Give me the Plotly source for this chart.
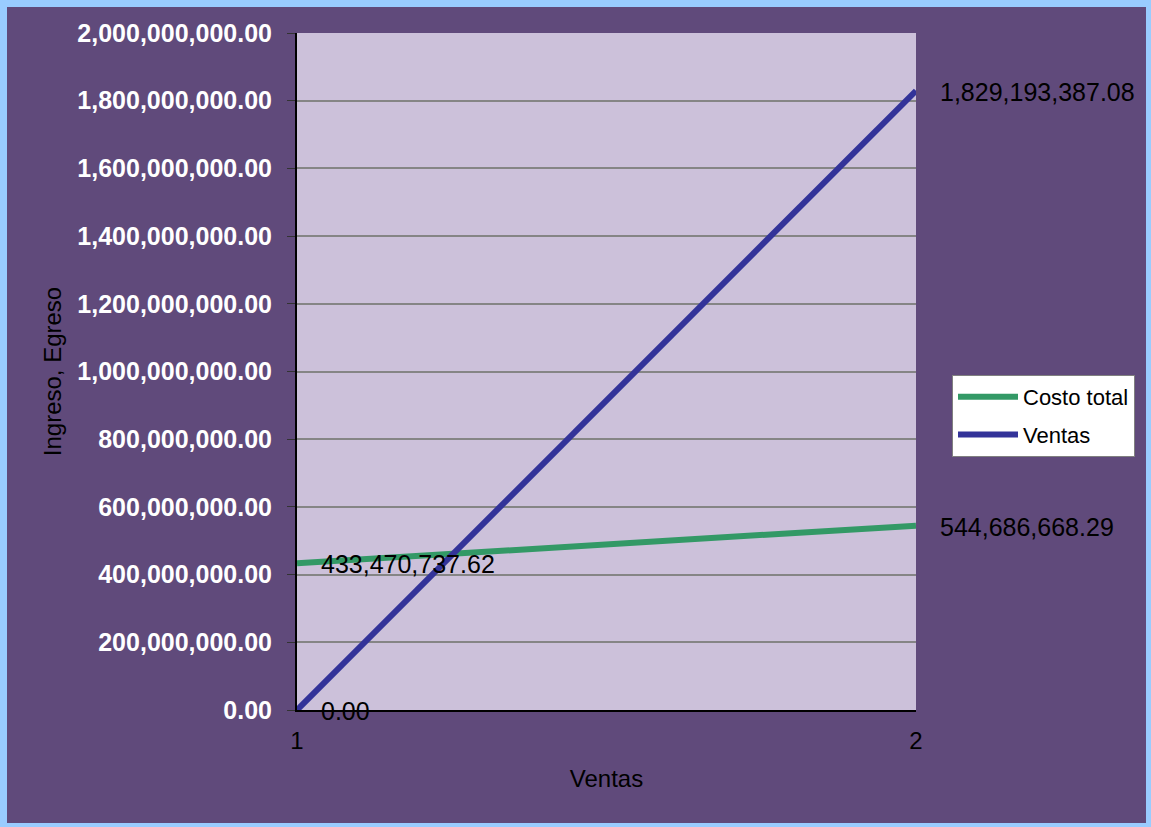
import plotly.graph_objects as go

# ---- data ----
categorias = [1, 2]
costo_total = [433470737.62, 544686668.29]
ventas = [0.00, 1829193387.08]
serie_nombres = ["Costo total", "Ventas"]
y_tick_vals = [0, 200e6, 400e6, 600e6, 800e6, 1000e6, 1200e6, 1400e6, 1600e6, 1800e6, 2000e6]
x_tick_vals = [1, 2]

# ---- layout geometry (pixels) ----
W, H = 1151, 827
L, R, T, B = 297, 916, 33, 710
FONT = "Liberation Sans, Arial, sans-serif"
PURPLE = "#604A7B"
LAVENDER = "#CCC1DA"
BORDER = "#99CCFF"


def px_x(p):
    return (p - L) / (R - L)


def px_y(p):
    return (B - p) / (B - T)


fig = go.Figure()
fig.add_trace(go.Scatter(x=categorias, y=costo_total, mode="lines", name=serie_nombres[0],
                         line=dict(color="#339966", width=6), legendgroup="a"))
fig.add_trace(go.Scatter(x=categorias, y=ventas, mode="lines", name=serie_nombres[1],
                         line=dict(color="#333399", width=6), legendgroup="b"))

annotations = []
for serie in (costo_total, ventas):
    for xv, yv in zip(categorias, serie):
        annotations.append(dict(x=xv, y=yv, xref="x", yref="y", text=f"{yv:,.2f}",
                                showarrow=False, xanchor="left", yanchor="middle",
                                xshift=22, yshift=-1,
                                font=dict(family=FONT, size=25, color="black")))

# light blue frame around the chart
shapes = [
    dict(type="rect", xref="paper", yref="paper", layer="above",
         x0=px_x(0), x1=px_x(W), y0=px_y(0), y1=px_y(7),
         fillcolor=BORDER, line=dict(width=0)),
    dict(type="rect", xref="paper", yref="paper", layer="above",
         x0=px_x(0), x1=px_x(W), y0=px_y(823), y1=px_y(H),
         fillcolor=BORDER, line=dict(width=0)),
    dict(type="rect", xref="paper", yref="paper", layer="above",
         x0=px_x(0), x1=px_x(7), y0=px_y(0), y1=px_y(H),
         fillcolor=BORDER, line=dict(width=0)),
    dict(type="rect", xref="paper", yref="paper", layer="above",
         x0=px_x(1146), x1=px_x(W), y0=px_y(0), y1=px_y(H),
         fillcolor=BORDER, line=dict(width=0)),
]

fig.update_layout(
    width=W, height=H,
    margin=dict(l=L, r=W - R, t=T, b=H - B, pad=0),
    paper_bgcolor=PURPLE,
    plot_bgcolor=LAVENDER,
    font=dict(family=FONT, color="black"),
    showlegend=True,
    legend=dict(x=px_x(952), y=px_y(375), xanchor="left", yanchor="top",
                bgcolor="white", bordercolor="#808080", borderwidth=1,
                font=dict(family=FONT, size=22, color="black"),
                itemwidth=60,
                traceorder="grouped", tracegroupgap=6),
    annotations=annotations,
    shapes=shapes,
)

fig.update_xaxes(
    range=[1, 2], tickvals=x_tick_vals, ticktext=[str(v) for v in x_tick_vals],
    showgrid=True, gridcolor="#8C8C8C", gridwidth=2,
    showline=True, linecolor="black", linewidth=2,
    ticks="", zeroline=False, ticklabelstandoff=8,
    tickfont=dict(family=FONT, size=24, color="black"),
    title=dict(text="Ventas", font=dict(family=FONT, size=24, color="black"), standoff=17),
)
fig.update_yaxes(
    range=[0, 2e9], tickvals=y_tick_vals, tickformat=",.2f",
    showgrid=True, gridcolor="#858585", gridwidth=1.5,
    showline=True, linecolor="black", linewidth=2,
    ticks="outside", ticklen=8, tickcolor="#333333", tickwidth=1,
    zeroline=False, ticklabelstandoff=10,
    tickfont=dict(family=FONT, size=25, color="white", weight="bold"),
    title=dict(text="Ingreso, Egreso", font=dict(family=FONT, size=24, color="black"), standoff=9),
)

fig.write_html("out.html")
